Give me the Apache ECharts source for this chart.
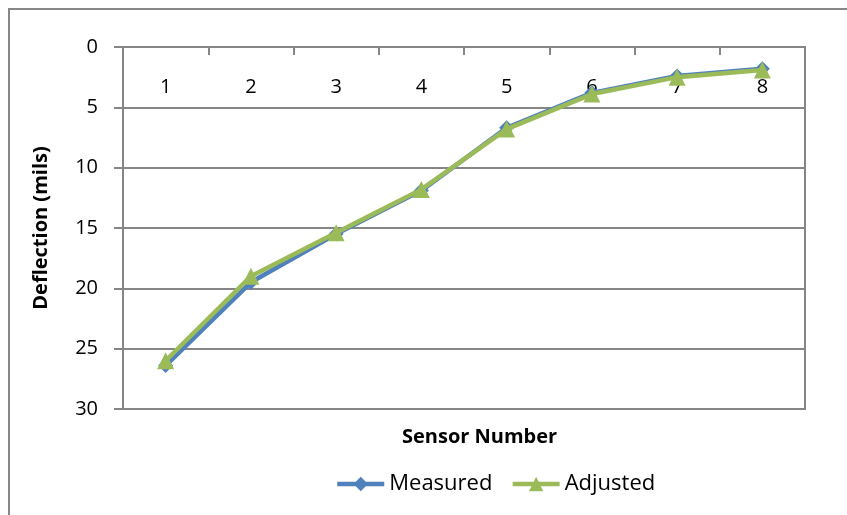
<!DOCTYPE html>
<html>
<head>
<meta charset="utf-8">
<script src="https://cdn.jsdelivr.net/npm/echarts@6/dist/echarts.min.js"></script>
<style>
  html, body { margin: 0; padding: 0; background: #fff; }
  #chart { width: 847px; height: 515px; }
</style>
</head>
<body>
<div id="chart"></div>
<script>
// Sensor positions along the deflection basin
const sensors = ['1', '2', '3', '4', '5', '6', '7', '8'];
// Deflections in mils
const measured = [26.4, 19.5, 15.5, 11.9, 6.7, 3.8, 2.4, 1.8];
const adjusted = [26.0, 19.0, 15.4, 11.8, 6.8, 3.9, 2.5, 1.9];
const yTicks = [0, 5, 10, 15, 20, 25, 30];

const FONT = '"Open Sans", sans-serif';
const GRAY = '#868686';
const BLUE = '#4F81BD';
const GREEN = '#9BBB59';

const chart = echarts.init(document.getElementById('chart'), null, { renderer: 'canvas' });

chart.setOption({
  animation: false,
  backgroundColor: '#ffffff',
  textStyle: { fontFamily: FONT, color: '#000' },
  grid: {
    left: 123, right: 42, top: 47, bottom: 106,
    show: true, borderColor: GRAY, borderWidth: 2, backgroundColor: 'transparent'
  },
  xAxis: {
    type: 'category',
    data: sensors,
    position: 'top',
    boundaryGap: true,
    axisLine: { show: true, onZero: false, lineStyle: { color: GRAY, width: 2 } },
    axisTick: { show: true, inside: true, length: 8, interval: 0, lineStyle: { color: GRAY, width: 2 } },
    axisLabel: { inside: true, margin: 30, fontSize: 20, color: '#000', fontFamily: FONT },
    splitLine: { show: false }
  },
  yAxis: {
    type: 'value',
    inverse: true,
    min: yTicks[0],
    max: yTicks[yTicks.length - 1],
    interval: yTicks[1] - yTicks[0],
    name: 'Deflection (mils)',
    nameLocation: 'middle',
    nameGap: 72,
    nameTextStyle: { fontSize: 20, fontWeight: 'bold', color: '#000', fontFamily: FONT },
    axisLine: { show: true, lineStyle: { color: GRAY, width: 2 } },
    axisTick: { show: true, inside: false, length: 9, lineStyle: { color: GRAY, width: 2 } },
    axisLabel: { margin: 25, fontSize: 20, color: '#000', fontFamily: FONT },
    splitLine: { show: true, lineStyle: { color: GRAY, width: 2 } }
  },
  legend: {
    left: 335,
    top: 473,
    padding: 0,
    itemWidth: 47,
    itemHeight: 18,
    itemGap: 18,
    lineStyle: { width: 4.5 },
    textStyle: { fontSize: 22, color: '#000', fontFamily: FONT },
    data: ['Measured', 'Adjusted']
  },
  graphic: [
    {
      type: 'rect',
      shape: { x: 9, y: 9, width: 900, height: 600 },
      style: { fill: 'none', stroke: '#878787', lineWidth: 2 },
      silent: true
    },
    {
      type: 'text',
      left: 402,
      top: 427,
      style: { text: 'Sensor Number', font: 'bold 20px ' + FONT, fill: '#000' }
    }
  ],
  series: [
    {
      name: 'Measured',
      type: 'line',
      data: measured,
      symbol: 'diamond',
      symbolSize: 15,
      lineStyle: { width: 4.5, color: BLUE },
      itemStyle: { color: BLUE },
      z: 2
    },
    {
      name: 'Adjusted',
      type: 'line',
      data: adjusted,
      symbol: 'triangle',
      symbolSize: 17,
      lineStyle: { width: 4.5, color: GREEN },
      itemStyle: { color: GREEN },
      z: 3
    }
  ]
});
</script>
</body>
</html>
